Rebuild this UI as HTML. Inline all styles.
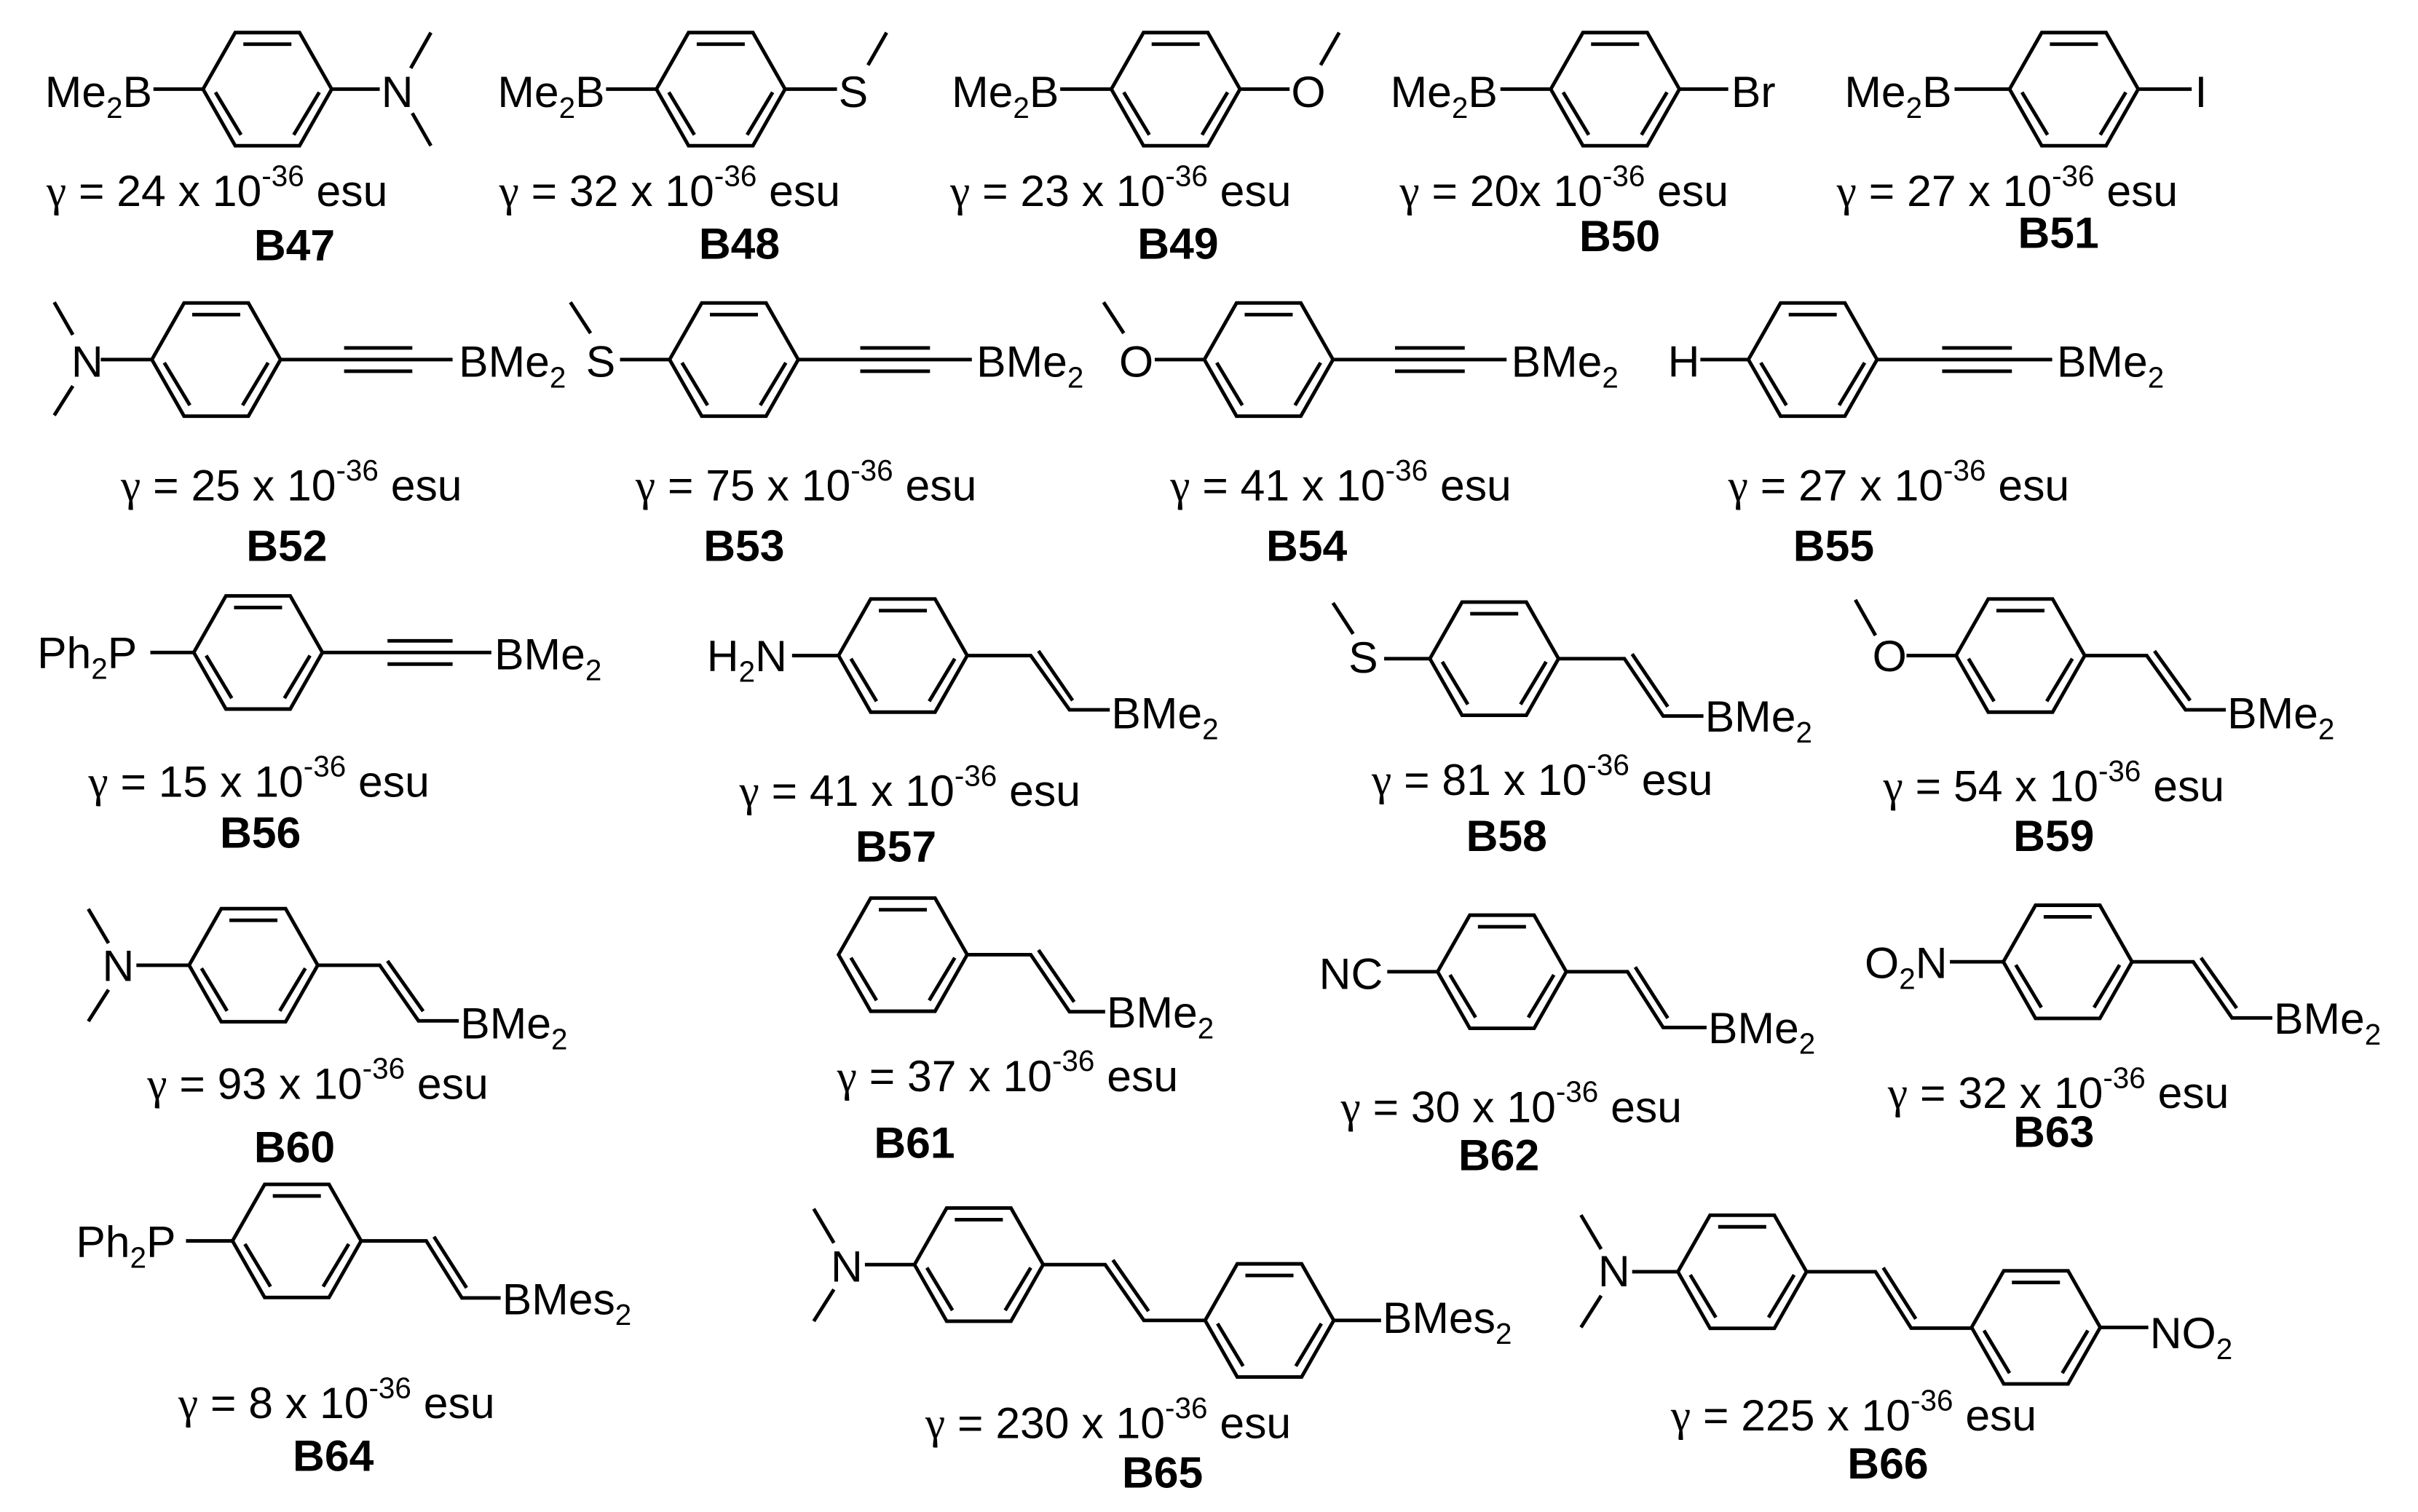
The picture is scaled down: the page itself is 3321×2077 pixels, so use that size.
<!DOCTYPE html>
<html><head><meta charset="utf-8"><style>
html,body{margin:0;padding:0;background:#fff}
svg{display:block}
text{font-family:"Liberation Sans",Arial,sans-serif;font-size:28.5px;fill:#000}
.b{font-weight:bold;text-anchor:middle}
.s{font-size:19px}
.g{font-family:"Liberation Serif",serif;font-size:29px}
</style></head><body>
<svg width="3321" height="2077" viewBox="0 0 1560 975.6" xmlns="http://www.w3.org/2000/svg" xmlns:xlink="http://www.w3.org/1999/xlink">
<defs>
<g id="r" fill="none" stroke="#000" stroke-width="2.3" stroke-linejoin="miter">
<polygon points="-41.5,0 -20.75,-36.5 20.75,-36.5 41.5,0 20.75,36.5 -20.75,36.5"/>
<path d="M-15.5,-29H15.5 M-33.5,2 L-17,29.5 M33.5,2 L17,29.5"/>
</g>
</defs>
<g stroke="#000" stroke-width="2.3" fill="none">
<path d="M99,57.5H131 M214,57.5H245 M265,44L278,21 M266,73L278,94"/>
<path d="M391,57.5H423.5 M506.5,57.5H540 M560,42L572,21"/>
<path d="M684,57.5H717 M800,57.5H832 M852,42L864,21"/>
<path d="M968,57.5H1000.5 M1083.5,57.5H1115"/>
<path d="M1261,57.5H1296.5 M1379.5,57.5H1414"/>
<path d="M35,195L47,216 M47,249L35,268 M65,232H98 M181,232H292 M222,224.5H266 M222,239.5H266"/>
<path d="M368,195L381,215 M400,232H432 M515,232H627 M555,224.5H600 M555,239.5H600"/>
<path d="M712,195L725,215 M745,232H777 M860,232H972 M900,224.5H945 M900,239.5H945"/>
<path d="M1097,232H1128 M1211,232H1324 M1253,224.5H1298 M1253,239.5H1298"/>
<path d="M97,421H125 M208,421H317 M250,413.5H292 M250,428.5H292"/>
<path d="M511,423H541 M624,423H665L690,458H716 M670,420L692,452"/>
<path d="M860,389L873,409 M893,425H922.5 M1005.5,425H1048L1073,462H1099 M1053,422L1076,456"/>
<path d="M1197,387L1210,410 M1230,423H1262 M1345,423H1385L1410,458H1436 M1390,420L1413,452"/>
<path d="M57,586.5L70,608.6 M70,638.6L57,659 M88,622.8H122 M205,622.8H245L270,658.7H296 M250,620L273,652.5"/>
<path d="M624,616H665L690,652.8H713 M670,613L693,646.5"/>
<path d="M895,627H927.5 M1010.5,627H1050L1073,663H1101 M1055,624L1076,657"/>
<path d="M1258,620.6H1292.5 M1375.5,620.6H1415L1440,656.8H1466 M1420,618L1443,650.5"/>
<path d="M120,800.7H150 M233,800.7H275L298,837.5H323 M280,798L301,831"/>
<path d="M525,780L538,802 M538,832L525,852.5 M558,816H590 M673,816H713L738,852H777.5 M718,813L741,846 M860.5,852H891"/>
<path d="M1020,784L1033,806 M1033,836L1020,856.5 M1053,820.6H1082.5 M1165.5,820.6H1210L1233,857H1272 M1215,818L1236,851 M1355,856.5H1386"/>
</g>
<use href="#r" xlink:href="#r" x="172.5" y="57.5"/>
<use href="#r" xlink:href="#r" x="465" y="57.5"/>
<use href="#r" xlink:href="#r" x="758.5" y="57.5"/>
<use href="#r" xlink:href="#r" x="1042" y="57.5"/>
<use href="#r" xlink:href="#r" x="1338" y="57.5"/>
<use href="#r" xlink:href="#r" x="139.5" y="232"/>
<use href="#r" xlink:href="#r" x="473.5" y="232"/>
<use href="#r" xlink:href="#r" x="818.5" y="232"/>
<use href="#r" xlink:href="#r" x="1169.5" y="232"/>
<use href="#r" xlink:href="#r" x="166.5" y="421"/>
<use href="#r" xlink:href="#r" x="582.5" y="423"/>
<use href="#r" xlink:href="#r" x="964" y="425"/>
<use href="#r" xlink:href="#r" x="1303.5" y="423"/>
<use href="#r" xlink:href="#r" x="163.5" y="622.8"/>
<use href="#r" xlink:href="#r" x="582.5" y="616"/>
<use href="#r" xlink:href="#r" x="969" y="627"/>
<use href="#r" xlink:href="#r" x="1334" y="620.6"/>
<use href="#r" xlink:href="#r" x="191.5" y="800.7"/>
<use href="#r" xlink:href="#r" x="631.5" y="816"/>
<use href="#r" xlink:href="#r" x="819" y="852"/>
<use href="#r" xlink:href="#r" x="1124" y="820.6"/>
<use href="#r" xlink:href="#r" x="1313.5" y="856.5"/>

<text x="29" y="69">Me<tspan class="s" dy="7">2</tspan><tspan dy="-7">B</tspan></text>
<text x="246" y="69">N</text>
<text x="30" y="133"><tspan class="g">γ</tspan> = 24 x 10<tspan class="s" dy="-13">-36</tspan><tspan dy="13"> esu</tspan></text>
<text class="b" x="190" y="168">B47</text>

<text x="321" y="69">Me<tspan class="s" dy="7">2</tspan><tspan dy="-7">B</tspan></text>
<text x="541" y="69">S</text>
<text x="322" y="133"><tspan class="g">γ</tspan> = 32 x 10<tspan class="s" dy="-13">-36</tspan><tspan dy="13"> esu</tspan></text>
<text class="b" x="477" y="167">B48</text>

<text x="614" y="69">Me<tspan class="s" dy="7">2</tspan><tspan dy="-7">B</tspan></text>
<text x="833" y="69">O</text>
<text x="613" y="133"><tspan class="g">γ</tspan> = 23 x 10<tspan class="s" dy="-13">-36</tspan><tspan dy="13"> esu</tspan></text>
<text class="b" x="760" y="167">B49</text>

<text x="897" y="69">Me<tspan class="s" dy="7">2</tspan><tspan dy="-7">B</tspan></text>
<text x="1117" y="69">Br</text>
<text x="903" y="133"><tspan class="g">γ</tspan> = 20x 10<tspan class="s" dy="-13">-36</tspan><tspan dy="13"> esu</tspan></text>
<text class="b" x="1045" y="162">B50</text>

<text x="1190" y="69">Me<tspan class="s" dy="7">2</tspan><tspan dy="-7">B</tspan></text>
<text x="1416" y="69">I</text>
<text x="1185" y="133"><tspan class="g">γ</tspan> = 27 x 10<tspan class="s" dy="-13">-36</tspan><tspan dy="13"> esu</tspan></text>
<text class="b" x="1328" y="160">B51</text>

<text x="46" y="243">N</text>
<text x="296" y="243">BMe<tspan class="s" dy="7">2</tspan></text>
<text x="78" y="323"><tspan class="g">γ</tspan> = 25 x 10<tspan class="s" dy="-13">-36</tspan><tspan dy="13"> esu</tspan></text>
<text class="b" x="185" y="362">B52</text>

<text x="378" y="243">S</text>
<text x="630" y="243">BMe<tspan class="s" dy="7">2</tspan></text>
<text x="410" y="323"><tspan class="g">γ</tspan> = 75 x 10<tspan class="s" dy="-13">-36</tspan><tspan dy="13"> esu</tspan></text>
<text class="b" x="480" y="362">B53</text>

<text x="722" y="243">O</text>
<text x="975" y="243">BMe<tspan class="s" dy="7">2</tspan></text>
<text x="755" y="323"><tspan class="g">γ</tspan> = 41 x 10<tspan class="s" dy="-13">-36</tspan><tspan dy="13"> esu</tspan></text>
<text class="b" x="843" y="362">B54</text>

<text x="1076" y="243">H</text>
<text x="1327" y="243">BMe<tspan class="s" dy="7">2</tspan></text>
<text x="1115" y="323"><tspan class="g">γ</tspan> = 27 x 10<tspan class="s" dy="-13">-36</tspan><tspan dy="13"> esu</tspan></text>
<text class="b" x="1183" y="362">B55</text>

<text x="24" y="431">Ph<tspan class="s" dy="7">2</tspan><tspan dy="-7">P</tspan></text>
<text x="319" y="432">BMe<tspan class="s" dy="7">2</tspan></text>
<text x="57" y="514"><tspan class="g">γ</tspan> = 15 x 10<tspan class="s" dy="-13">-36</tspan><tspan dy="13"> esu</tspan></text>
<text class="b" x="168" y="547">B56</text>

<text x="456" y="433">H<tspan class="s" dy="7">2</tspan><tspan dy="-7">N</tspan></text>
<text x="717" y="470">BMe<tspan class="s" dy="7">2</tspan></text>
<text x="477" y="520"><tspan class="g">γ</tspan> = 41 x 10<tspan class="s" dy="-13">-36</tspan><tspan dy="13"> esu</tspan></text>
<text class="b" x="578" y="556">B57</text>

<text x="870" y="434">S</text>
<text x="1100" y="472">BMe<tspan class="s" dy="7">2</tspan></text>
<text x="885" y="513"><tspan class="g">γ</tspan> = 81 x 10<tspan class="s" dy="-13">-36</tspan><tspan dy="13"> esu</tspan></text>
<text class="b" x="972" y="549">B58</text>

<text x="1208" y="433">O</text>
<text x="1437" y="470">BMe<tspan class="s" dy="7">2</tspan></text>
<text x="1215" y="517"><tspan class="g">γ</tspan> = 54 x 10<tspan class="s" dy="-13">-36</tspan><tspan dy="13"> esu</tspan></text>
<text class="b" x="1325" y="549">B59</text>

<text x="66" y="633">N</text>
<text x="297" y="670">BMe<tspan class="s" dy="7">2</tspan></text>
<text x="95" y="709"><tspan class="g">γ</tspan> = 93 x 10<tspan class="s" dy="-13">-36</tspan><tspan dy="13"> esu</tspan></text>
<text class="b" x="190" y="750">B60</text>

<text x="714" y="663">BMe<tspan class="s" dy="7">2</tspan></text>
<text x="540" y="704"><tspan class="g">γ</tspan> = 37 x 10<tspan class="s" dy="-13">-36</tspan><tspan dy="13"> esu</tspan></text>
<text class="b" x="590" y="747">B61</text>

<text x="851" y="638">NC</text>
<text x="1102" y="673">BMe<tspan class="s" dy="7">2</tspan></text>
<text x="865" y="724"><tspan class="g">γ</tspan> = 30 x 10<tspan class="s" dy="-13">-36</tspan><tspan dy="13"> esu</tspan></text>
<text class="b" x="967" y="755">B62</text>

<text x="1203" y="631">O<tspan class="s" dy="7">2</tspan><tspan dy="-7">N</tspan></text>
<text x="1467" y="667">BMe<tspan class="s" dy="7">2</tspan></text>
<text x="1218" y="715"><tspan class="g">γ</tspan> = 32 x 10<tspan class="s" dy="-13">-36</tspan><tspan dy="13"> esu</tspan></text>
<text class="b" x="1325" y="740">B63</text>

<text x="49" y="811">Ph<tspan class="s" dy="7">2</tspan><tspan dy="-7">P</tspan></text>
<text x="324" y="848">BMes<tspan class="s" dy="7">2</tspan></text>
<text x="115" y="915"><tspan class="g">γ</tspan> = 8 x 10<tspan class="s" dy="-13">-36</tspan><tspan dy="13"> esu</tspan></text>
<text class="b" x="215" y="949">B64</text>

<text x="536" y="827">N</text>
<text x="892" y="860">BMes<tspan class="s" dy="7">2</tspan></text>
<text x="597" y="928"><tspan class="g">γ</tspan> =  230 x 10<tspan class="s" dy="-13">-36</tspan><tspan dy="13"> esu</tspan></text>
<text class="b" x="750" y="960">B65</text>

<text x="1031" y="830">N</text>
<text x="1387" y="870">NO<tspan class="s" dy="7">2</tspan></text>
<text x="1078" y="923"><tspan class="g">γ</tspan> = 225 x 10<tspan class="s" dy="-13">-36</tspan><tspan dy="13"> esu</tspan></text>
<text class="b" x="1218" y="954">B66</text>
</svg>
</body></html>
